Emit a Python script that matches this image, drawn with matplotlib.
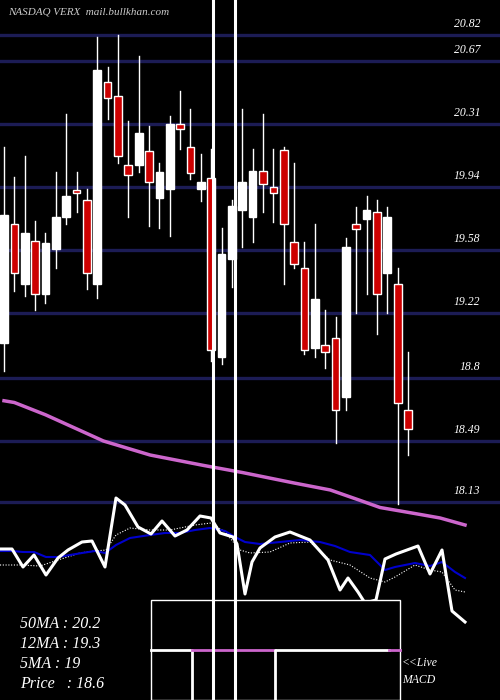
import matplotlib
matplotlib.use("Agg")
import matplotlib.pyplot as plt
from matplotlib.patches import Rectangle

opens  = [19.04,19.72,19.38,19.62,19.32,19.58,19.76,19.91,19.86,19.38,20.53,20.45,20.06,20.06,20.14,19.87,19.92,20.29,20.16,19.92,
          19.98,18.96,19.52,19.80,19.76,20.02,19.93,20.14,19.62,19.47,19.01,19.03,19.07,18.73,19.72,19.75,19.79,19.44,19.38,18.66]
closes = [19.77,19.44,19.67,19.32,19.61,19.76,19.88,19.90,19.44,20.60,20.44,20.11,20.00,20.24,19.96,20.02,20.29,20.26,20.01,19.96,
          19.00,19.55,19.82,19.96,20.02,19.95,19.90,19.72,19.49,19.00,19.29,18.99,18.66,19.59,19.69,19.80,19.32,19.76,18.70,18.55]
highs  = [20.16,19.99,20.11,19.74,19.67,20.02,20.35,20.02,19.92,20.79,20.62,20.80,20.31,20.68,20.28,20.07,20.34,20.48,20.38,20.12,
          20.15,19.70,19.86,20.38,20.15,20.35,20.15,20.16,20.07,19.62,19.72,19.23,19.19,19.64,19.82,19.88,19.86,19.82,19.47,18.99]
lows   = [18.88,19.34,19.31,19.23,19.27,19.47,19.72,19.79,19.35,19.30,20.32,20.07,19.76,20.02,19.71,19.70,19.65,20.15,19.98,19.85,
          18.94,18.92,19.36,19.59,19.62,19.79,19.73,19.38,19.47,18.98,18.96,18.90,18.47,18.66,19.21,19.32,19.09,19.21,18.12,18.40]

ma_x = [0,1,4,9.6,14.1,19.3,23,28,31.5,34.4,36.3,40.2,42.1,44.5]
ma_v = [18.71,18.70,18.63,18.48,18.40,18.34,18.30,18.24,18.20,18.14,18.10,18.06,18.04,18.00]

grid_levels = [20.82,20.67,20.31,19.94,19.58,19.22,18.8,18.49,18.13]
grid_pos    = [20.80,20.65,20.29,19.93,19.57,19.21,18.84,18.48,18.13]

# lower indicator panel (screen-like units)
w_x = [0,12,23,34,46,58,68,82,92,105,116,125,138,151,162,175,187,200,211,220,233,237,245,252,260,275,290,310,328,340,348,358,365,376,385,396,418,430,442,452,465]
w_y = [549,549,567,555,575,558,550,542,541,567,498,505,527,534,521,536,530,516,518,533,537,544,594,562,548,537,532,540,560,590,578,592,603,600,559,554,546,574,550,611,622]
b_x = [0,12,23,34,46,58,70,82,95,105,116,130,150,165,180,195,210,225,235,245,260,280,300,320,335,350,370,385,395,415,430,442,455,465]
b_y = [551,551,552,552,557,557,555,553,551,553,545,538,535,533,533,530,528,531,537,542,544,542,540,542,546,552,555,570,567,563,566,562,572,578]
d_x = [0,20,40,58,80,95,106,116,130,150,170,195,211,225,240,250,270,290,310,330,350,370,385,395,415,430,442,455,465]
d_y = [565,565,566,560,553,551,550,535,528,530,530,525,523,532,550,553,552,543,542,560,565,578,582,577,565,570,572,590,592]

labels = ["50MA : 20.2", "12MA : 19.3", "5MA : 19", "Price   : 18.6"]

fig = plt.figure(figsize=(5, 7), dpi=100, facecolor="black")
ax = fig.add_axes([0, 0, 1, 1], facecolor="black")
sp = 10.36
ax.set_xlim(-4 / sp, 496 / sp)
ax.set_ylim(17.0, 21.0)
ax.axis("off")

for g in grid_pos:
    ax.axhline(g, color="#1c1c55", lw=2.4, zorder=1)
for g, lab in zip(grid_pos, grid_levels):
    ax.text(46.0, g + 0.03, f"{lab:g}", color="white", fontsize=8.5, family="Liberation Serif",
            style="italic", ha="right", va="bottom", zorder=5)

for i, (o, c, h, l) in enumerate(zip(opens, closes, highs, lows)):
    ax.plot([i, i], [l, h], color="white", lw=1, zorder=2)
    up = c >= o
    ax.add_patch(Rectangle((i - 0.37, min(o, c)), 0.74, max(abs(c - o), 0.015),
                           facecolor="white" if up else "#cc0000", edgecolor="white",
                           lw=1, zorder=3))

ax.plot(ma_x, ma_v, color="#cc66cc", lw=2.5, zorder=2)

ax2 = fig.add_axes([0, 0, 1, 1], facecolor="none")
ax2.set_xlim(0, 500)
ax2.set_ylim(700, 0)
ax2.axis("off")
ax2.plot(d_x, d_y, color="white", lw=0.8, ls=(0, (1, 1.5)))
ax2.plot(b_x, b_y, color="#0000cc", lw=1.5)
ax2.plot(w_x, w_y, color="white", lw=2.2)

# MACD box
ax2.add_patch(Rectangle((151, 600), 249, 100, facecolor="black", edgecolor="white", lw=1, zorder=4))
ax2.plot([151, 192, 192], [650, 650, 700], color="white", lw=2, zorder=5)
ax2.plot([192, 275], [650, 650], color="#cc66cc", lw=2, zorder=5)
ax2.plot([275, 275, 389], [700, 650, 650], color="white", lw=2, zorder=5)
ax2.plot([389, 400], [650, 650], color="#cc66cc", lw=2, zorder=5)

ax2.plot([213, 213], [0, 700], color="white", lw=2.2, zorder=6)
ax2.plot([235, 235], [0, 700], color="white", lw=2.2, zorder=6)

for k, lab in enumerate(labels):
    ax2.text(20, 624 + 20 * k, lab, color="white", fontsize=11.5, family="Liberation Serif",
             style="italic", va="center")
ax2.text(402, 663, "<<Live", color="white", fontsize=8.5, family="Liberation Serif", style="italic", va="center")
ax2.text(402, 680, "MACD", color="white", fontsize=8.5, family="Liberation Serif", style="italic", va="center")
ax2.text(8, 12, "NASDAQ VERX  mail.bullkhan.com", color="#cccccc", fontsize=8,
         family="Liberation Serif", style="italic", va="center")

fig.savefig("out.png", dpi=100, facecolor="black")
